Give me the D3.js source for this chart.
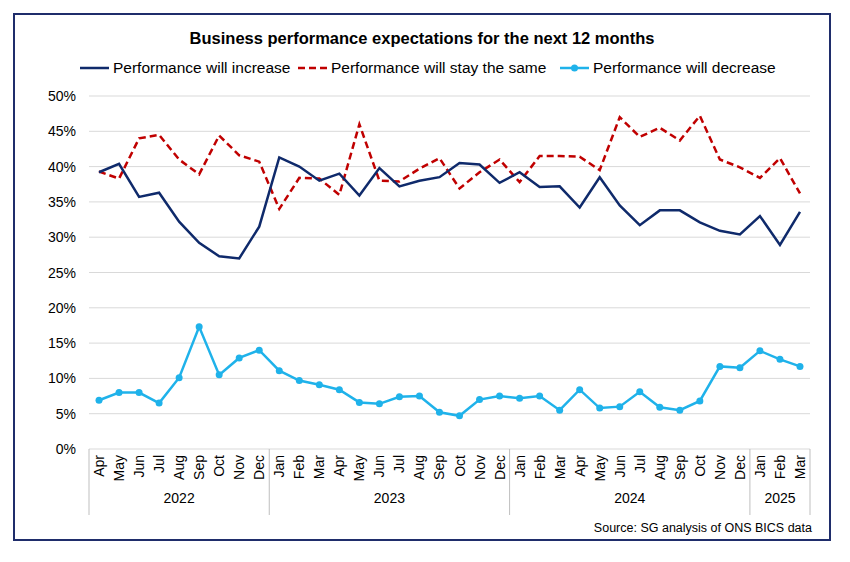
<!DOCTYPE html>
<html><head><meta charset="utf-8">
<script src="https://cdn.jsdelivr.net/npm/d3@7"></script>
<style>body{margin:0;background:#fff}text{font-family:Arial,"Liberation Sans",sans-serif}</style>
</head><body><svg id="chart"></svg>
<script>
var months = ["Apr","May","Jun","Jul","Aug","Sep","Oct","Nov","Dec",
  "Jan","Feb","Mar","Apr","May","Jun","Jul","Aug","Sep","Oct","Nov","Dec",
  "Jan","Feb","Mar","Apr","May","Jun","Jul","Aug","Sep","Oct","Nov","Dec",
  "Jan","Feb","Mar"]
var years = [{label:"2022",n:9},{label:"2023",n:12},{label:"2024",n:12},{label:"2025",n:3}]
var increase = [39.2,40.4,35.7,36.3,32.2,29.2,27.3,27.0,31.5,41.3,40.0,38.0,39.0,35.9,39.8,37.2,38.0,38.5,40.5,40.3,37.7,39.2,37.1,37.2,34.2,38.5,34.5,31.7,33.8,33.8,32.1,30.9,30.4,33.0,28.9,33.6]
var same = [39.3,38.3,44.0,44.5,41.0,38.9,44.4,41.6,40.7,34.0,38.4,38.3,36.0,46.0,38.0,37.9,39.7,41.2,36.9,39.2,41.0,37.8,41.5,41.5,41.4,39.5,47.0,44.2,45.5,43.7,47.2,41.0,39.9,38.4,41.2,36.2]
var decrease = [6.9,8.0,8.0,6.5,10.1,17.3,10.5,12.9,14.0,11.1,9.7,9.1,8.4,6.6,6.4,7.4,7.5,5.2,4.7,7.0,7.5,7.2,7.5,5.5,8.4,5.8,6.0,8.1,5.9,5.5,6.8,11.7,11.5,13.9,12.7,11.7]
var yTicks = [0,5,10,15,20,25,30,35,40,45,50]

var W = 850, H = 562
var svg = d3.select("#chart").attr("width",W).attr("height",H)
svg.append("rect").attr("x",14).attr("y",14).attr("width",816).attr("height",526)
  .attr("fill","none").attr("stroke","#1f2d6b").attr("stroke-width",2)

var idx = d3.range(months.length)
var x = d3.scaleBand().domain(idx).range([89,810])
var cx = function(i){return x(i)+x.bandwidth()/2}
var y = d3.scaleLinear().domain([0,50]).range([449,96])

svg.append("g").selectAll("line").data(yTicks).enter().append("line")
  .attr("x1",89).attr("x2",810).attr("y1",y).attr("y2",y)
  .attr("stroke","#d9d9d9").attr("stroke-width",1)
svg.append("g").selectAll("text").data(yTicks).enter().append("text")
  .attr("x",76).attr("y",function(d){return y(d)+5}).attr("text-anchor","end")
  .attr("font-size",14).attr("fill","#000").text(function(d){return d+"%"})

// month labels
svg.append("g").selectAll("text").data(idx).enter().append("text")
  .attr("transform",function(i){return "translate("+(cx(i)+5)+",455) rotate(-90)"})
  .attr("text-anchor","end").attr("font-size",14).text(function(i){return months[i]})

// year groups
var start = 0
svg.append("line").attr("x1",89).attr("x2",89).attr("y1",449).attr("y2",515).attr("stroke","#bfbfbf")
years.forEach(function(g){
  var x0 = x(start), x1 = x(start+g.n-1)+x.bandwidth()
  svg.append("line").attr("x1",x1).attr("x2",x1).attr("y1",449).attr("y2",515).attr("stroke","#bfbfbf")
  svg.append("text").attr("x",(x0+x1)/2).attr("y",503).attr("text-anchor","middle")
    .attr("font-size",14).text(g.label)
  start += g.n
})

var line = d3.line().x(function(d,i){return cx(i)}).y(function(d){return y(d)})
svg.append("path").datum(same).attr("d",line).attr("fill","none")
  .attr("stroke","#c00000").attr("stroke-width",2.5).attr("stroke-dasharray","7,4")
svg.append("path").datum(increase).attr("d",line).attr("fill","none")
  .attr("stroke","#0f2a6b").attr("stroke-width",2.5)
svg.append("path").datum(decrease).attr("d",line).attr("fill","none")
  .attr("stroke","#1fb2ea").attr("stroke-width",2.5)
svg.append("g").selectAll("circle").data(decrease).enter().append("circle")
  .attr("cx",function(d,i){return cx(i)}).attr("cy",y).attr("r",3.5).attr("fill","#1fb2ea")

svg.append("text").attr("x",422).attr("y",44).attr("text-anchor","middle")
  .attr("font-size",16.5).attr("font-weight","bold").text("Business performance expectations for the next 12 months")

var legend = [
  {label:"Performance will increase",color:"#0f2a6b",dash:null,dot:false,x:80},
  {label:"Performance will stay the same",color:"#c00000",dash:"7,4",dot:false,x:298},
  {label:"Performance will decrease",color:"#1fb2ea",dash:null,dot:true,x:560}
]
legend.forEach(function(l){
  svg.append("line").attr("x1",l.x).attr("x2",l.x+29).attr("y1",68).attr("y2",68)
    .attr("stroke",l.color).attr("stroke-width",2.5).attr("stroke-dasharray",l.dash)
  if(l.dot) svg.append("circle").attr("cx",l.x+14.5).attr("cy",68).attr("r",3.5).attr("fill",l.color)
  svg.append("text").attr("x",l.x+33).attr("y",73).attr("font-size",15.5).text(l.label)
})

svg.append("text").attr("x",812).attr("y",532).attr("text-anchor","end")
  .attr("font-size",12.5).text("Source: SG analysis of ONS BICS data")
</script></body></html>
